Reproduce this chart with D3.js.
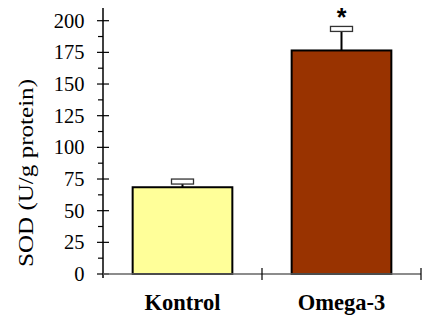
<!DOCTYPE html>
<html><head><meta charset="utf-8">
<script src="https://cdn.jsdelivr.net/npm/d3@7"></script>
<style>body{margin:0;background:#fff}svg{display:block}</style>
</head><body><svg id="c" width="422" height="322"></svg>
<script>
const categories = ["Kontrol", "Omega-3"];
const values = [68.5, 176.5];
const errors = [4.5, 17];
const colors = ["#ffff99", "#993300"];
const yTicks = [0, 25, 50, 75, 100, 125, 150, 175, 200];
const yMinorTicks = [12.5, 37.5, 62.5, 87.5, 112.5, 137.5, 162.5, 187.5];
const significance = ["", "*"];

const svg = d3.select("#c");
const x0 = 103, x1 = 421, yTop = 20.7, yBot = 274;
const x = d3.scaleBand().domain(categories).range([x0, x1]).paddingInner(0).paddingOuter(0);
const y = d3.scaleLinear().domain([0, 200]).range([yBot, yTop]);
const font = "'Liberation Serif','Times New Roman',serif";
const bw = x.bandwidth() * 0.627;

// bars
svg.selectAll("rect.bar").data(categories).enter().append("rect")
  .attr("x", d => x(d) + (x.bandwidth() - bw) / 2)
  .attr("y", (d, i) => y(values[i]))
  .attr("width", bw)
  .attr("height", (d, i) => y(0) - y(values[i]))
  .attr("fill", (d, i) => colors[i])
  .attr("stroke", "#000").attr("stroke-width", 2);

// error bars
categories.forEach((c, i) => {
  const cx = x(c) + x.bandwidth() / 2;
  const top = y(values[i] + errors[i]);
  svg.append("line").attr("x1", cx).attr("x2", cx)
    .attr("y1", y(values[i])).attr("y2", top)
    .attr("stroke", "#000").attr("stroke-width", 2);
  svg.append("rect").attr("x", cx - 11).attr("y", top - 2.5).attr("width", 22).attr("height", 5)
    .attr("fill", "#fff").attr("stroke", "#333").attr("stroke-width", 1.3);
  if (significance[i]) {
    svg.append("text").attr("x", cx).attr("y", top - 3)
      .attr("text-anchor", "middle").attr("font-family", "'Liberation Sans',Arial,sans-serif")
      .attr("font-weight", "bold").attr("font-size", 25).text(significance[i]);
  }
});

// y axis
const yAxis = svg.append("g").attr("transform", `translate(${x0},0)`);
yAxis.append("line").attr("x1", 0).attr("x2", 0).attr("y1", 8).attr("y2", yBot + 4)
  .attr("stroke", "#000").attr("stroke-width", 1.5);
yAxis.selectAll("line.maj").data(yTicks).enter().append("line")
  .attr("x1", -6).attr("x2", 6).attr("y1", d => y(d)).attr("y2", d => y(d))
  .attr("stroke", "#000").attr("stroke-width", 1.2);
yAxis.selectAll("line.min").data(yMinorTicks).enter().append("line")
  .attr("x1", -5).attr("x2", 0).attr("y1", d => y(d)).attr("y2", d => y(d))
  .attr("stroke", "#000").attr("stroke-width", 1.2);
yAxis.selectAll("text").data(yTicks).enter().append("text")
  .attr("x", -18.5).attr("y", d => y(d)).attr("dy", "0.34em")
  .attr("text-anchor", "end").attr("font-family", font).attr("font-size", 20.5).text(d => d);

// x axis
const xg = svg.append("g");
xg.append("line").attr("x1", x0).attr("x2", x1).attr("y1", yBot).attr("y2", yBot)
  .attr("stroke", "#666").attr("stroke-width", 1.5);
xg.selectAll("line.t").data(categories).enter().append("line")
  .attr("x1", d => x(d) + x.bandwidth()).attr("x2", d => x(d) + x.bandwidth())
  .attr("y1", yBot - 6).attr("y2", yBot + 6).attr("stroke", "#000").attr("stroke-width", 1.2);
xg.selectAll("text").data(categories).enter().append("text")
  .attr("x", d => x(d) + x.bandwidth() / 2).attr("y", 310)
  .attr("text-anchor", "middle").attr("font-family", font).attr("font-weight", "bold")
  .attr("font-size", 22.5).text(d => d);

// y label
svg.append("text").attr("transform", `translate(33,173) rotate(-90)`)
  .attr("text-anchor", "middle").attr("font-family", font).attr("font-size", 22)
  .attr("textLength", 188).attr("lengthAdjust", "spacingAndGlyphs")
  .text("SOD (U/g protein)");
</script></body></html>
